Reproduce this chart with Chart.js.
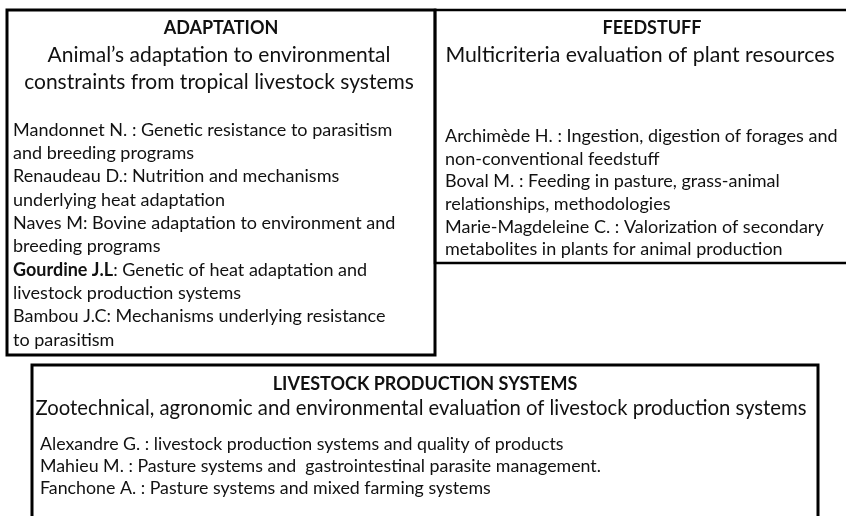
<!DOCTYPE html>
<html>
<head>
<meta charset="utf-8">
<script src="https://cdn.jsdelivr.net/npm/chart.js@4.4.0/dist/chart.umd.min.js"></script>
<style>
  html, body { margin: 0; padding: 0; background: #fff; }
  #wrap { width: 846px; height: 516px; position: relative; }
</style>
</head>
<body>
<div id="wrap"><canvas id="chart"></canvas></div>
<script>
// texts of the three team boxes
const adaptationTitle = 'ADAPTATION';
const adaptationTheme = ['Animal’s adaptation to environmental', 'constraints from tropical livestock systems'];
const adaptationMembers = [
    'Mandonnet N. : Genetic resistance to parasitism',
    'and breeding programs',
    'Renaudeau D.: Nutrition and mechanisms',
    'underlying heat adaptation',
    'Naves M: Bovine adaptation to environment and',
    'breeding programs',
    'Gourdine J.L: Genetic of heat adaptation and',
    'livestock production systems',
    'Bambou J.C: Mechanisms underlying resistance',
    'to parasitism'
];

const feedTitle = 'FEEDSTUFF';
const feedTheme = ['Multicriteria evaluation of plant resources'];
const feedMembers = [
    'Archimède H. : Ingestion, digestion of forages and',
    'non-conventional feedstuff',
    'Boval M. : Feeding in pasture, grass-animal',
    'relationships, methodologies',
    'Marie-Magdeleine C. : Valorization of secondary',
    'metabolites in plants for animal production'
];

const systemsTitle = 'LIVESTOCK PRODUCTION SYSTEMS';
const systemsTheme = ['Zootechnical, agronomic and environmental evaluation of livestock production systems'];
const systemsMembers = [
    'Alexandre G. : livestock production systems and quality of products',
    'Mahieu M. : Pasture systems and  gastrointestinal parasite management.',
    'Fanchone A. : Pasture systems and mixed farming systems'
];

// names written in bold
const boldNames = ['Gourdine J.L'];

const FONT = 'Lato, "Open Sans", sans-serif';
const INK = '#111';

// box outlines, in the same units as the scales (page pixels)
const boxes = [
    { pts: [[7, 10], [435, 10], [435, 355], [7, 355], [7, 10]], width: 3 },
    { pts: [[850, 10], [435, 10], [435, 263], [850, 263]], width: 2.5 },
    { pts: [[32, 530], [32, 365], [818, 365], [818, 530]], width: 3 }
];

// where each text block sits
const blocks = [
    { title: adaptationTitle, theme: adaptationTheme, members: adaptationMembers,
      titleX: 221, titleY: 28, themeX: 219, themeY: 55, themeStep: 27,
      bodyX: 13, bodyY: 130, bodyStep: 23.3, titleSize: 18, themeSize: 21, bodySize: 18 },
    { title: feedTitle, theme: feedTheme, members: feedMembers,
      titleX: 652, titleY: 28, themeX: 640, themeY: 55, themeStep: 27,
      bodyX: 445, bodyY: 136, bodyStep: 22.7, titleSize: 18, themeSize: 21.3, bodySize: 18 },
    { title: systemsTitle, theme: systemsTheme, members: systemsMembers,
      titleX: 425, titleY: 384, themeX: 421, themeY: 408, themeStep: 27,
      bodyX: 40, bodyY: 444, bodyStep: 22, titleSize: 18, themeSize: 20.3, bodySize: 17.8 }
];

const textPlugin = {
    id: 'boxText',
    afterDatasetsDraw(chart) {
        const ctx = chart.ctx;
        const xs = chart.scales.x;
        const ys = chart.scales.y;
        ctx.save();
        ctx.fillStyle = INK;
        ctx.textBaseline = 'middle';
        blocks.forEach(b => {
            // title
            ctx.textAlign = 'center';
            ctx.font = 'bold ' + b.titleSize + 'px ' + FONT;
            ctx.fillText(b.title, xs.getPixelForValue(b.titleX), ys.getPixelForValue(b.titleY));
            // theme
            ctx.font = b.themeSize + 'px ' + FONT;
            b.theme.forEach((line, i) => {
                ctx.fillText(line, xs.getPixelForValue(b.themeX), ys.getPixelForValue(b.themeY + i * b.themeStep));
            });
            // members
            ctx.textAlign = 'left';
            b.members.forEach((line, i) => {
                let px = xs.getPixelForValue(b.bodyX);
                const py = ys.getPixelForValue(b.bodyY + i * b.bodyStep);
                let rest = line;
                const name = boldNames.find(n => line.startsWith(n));
                if (name) {
                    ctx.font = 'bold ' + b.bodySize + 'px ' + FONT;
                    ctx.fillText(name, px, py);
                    px += ctx.measureText(name).width;
                    rest = line.slice(name.length);
                }
                ctx.font = b.bodySize + 'px ' + FONT;
                ctx.fillText(rest, px, py);
            });
        });
        ctx.restore();
    }
};

const ctx = document.getElementById('chart').getContext('2d');
const chart = new Chart(ctx, {
    type: 'scatter',
    data: {
        datasets: boxes.map(b => ({
            data: b.pts.map(p => ({ x: p[0], y: p[1] })),
            showLine: true,
            borderColor: '#000',
            borderWidth: b.width,
            borderCapStyle: 'square',
            borderJoinStyle: 'miter',
            pointRadius: 0,
            fill: false,
            tension: 0
        }))
    },
    options: {
        responsive: true,
        maintainAspectRatio: false,
        animation: false,
        layout: { padding: 0 },
        plugins: {
            legend: { display: false },
            tooltip: { enabled: false }
        },
        scales: {
            x: { type: 'linear', min: 0, max: 846, display: false },
            y: { type: 'linear', min: 0, max: 516, reverse: true, display: false }
        }
    },
    plugins: [textPlugin]
});
</script>
</body>
</html>
